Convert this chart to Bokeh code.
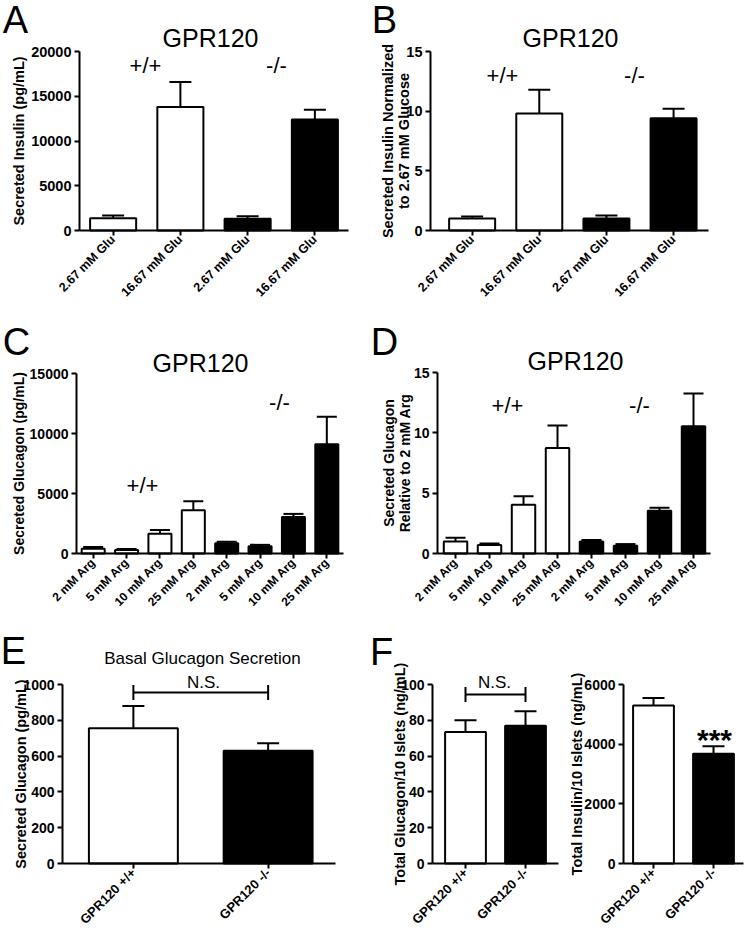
import math
from bokeh.plotting import figure
from bokeh.models import (ColumnDataSource, Whisker, TeeHead, Label, FixedTicker,
                          NumeralTickFormatter, Range1d)
from bokeh.layouts import column, row
from bokeh.embed import file_html
from bokeh.resources import INLINE

FONT = "Liberation Sans"

# ---------------- data ----------------
glu_labels = ["2.67 mM Glu", "16.67 mM Glu", "2.67 mM Glu", "16.67 mM Glu"]
glu_genotype = ["+/+", "+/+", "-/-", "-/-"]
insulin_secreted = [1380, 13800, 1300, 12400]
insulin_secreted_err = [300, 2800, 300, 1100]
insulin_normalized = [1.0, 9.8, 1.0, 9.4]
insulin_normalized_err = [0.17, 2.0, 0.25, 0.8]

arg_labels = ["2 mM Arg", "5 mM Arg", "10 mM Arg", "25 mM Arg",
              "2 mM Arg", "5 mM Arg", "10 mM Arg", "25 mM Arg"]
arg_genotype = ["+/+"] * 4 + ["-/-"] * 4
glucagon_secreted = [400, 300, 1650, 3600, 850, 600, 3050, 9100]
glucagon_secreted_err = [150, 80, 300, 750, 120, 120, 250, 2300]
glucagon_relative = [1.0, 0.7, 4.05, 8.75, 1.0, 0.65, 3.55, 10.55]
glucagon_relative_err = [0.3, 0.12, 0.7, 1.85, 0.12, 0.13, 0.25, 2.7]

geno_labels = ["GPR120 +/+", "GPR120 -/-"]
geno_genotype = ["+/+", "-/-"]
basal_glucagon = [755, 630]
basal_glucagon_err = [125, 42]
total_glucagon = [73.5, 77.0]
total_glucagon_err = [6.5, 8.0]
total_insulin = [5300, 3680]
total_insulin_err = [250, 250]

GENO_COLOR = {"+/+": "#ffffff", "-/-": "#000000"}


def make_panel(box, axis_px, xdata, ydata, yticks, labels, genotypes, values, errs,
               bar_width, xlabel_size, ytick_size="14px", cap=22):
    """box: figure (x0, y0, w, h) in page pixels; axis_px: (left, top, right, bottom)
    pixel positions of the axes; xdata/ydata: data extent of the axes."""
    fx, fy, w, h = box
    al, at, ar, ab = axis_px
    xlo, xhi = xdata
    ylo, yhi = ydata
    kx = (ar - al) / (xhi - xlo)
    ky = (ab - at) / (yhi - ylo)
    xr = (xlo - (al - fx) / kx, xhi + (fx + w - ar) / kx)
    yr = (ylo - (fy + h - ab) / ky, yhi + (at - fy) / ky)
    p = figure(width=w, height=h, x_range=Range1d(*xr), y_range=Range1d(*yr),
               output_backend="svg", toolbar_location=None, min_border=0)
    p.outline_line_color = None
    p.grid.visible = False
    p.background_fill_color = "white"
    p.border_fill_color = "white"
    xs = [i + 0.5 for i in range(len(values))]
    src = ColumnDataSource(dict(x=xs, top=values,
                                upper=[v + e for v, e in zip(values, errs)],
                                color=[GENO_COLOR[g] for g in genotypes]))
    wk = Whisker(source=src, base="x", lower="top", upper="upper", dimension="height",
                 line_width=2, line_color="black",
                 upper_head=TeeHead(size=cap, line_width=2, line_color="black"),
                 lower_head=None)
    p.add_layout(wk)
    p.vbar(x="x", top="top", bottom=0, width=bar_width, source=src,
           fill_color="color", line_color="black", line_width=2)
    for ax in (p.xaxis[0], p.yaxis[0]):
        ax.axis_line_width = 2
        ax.axis_line_color = "black"
        ax.major_tick_line_width = 2
        ax.major_tick_line_color = "black"
        ax.minor_tick_line_color = None
        ax.major_tick_in = 0
        ax.major_tick_out = 5
        ax.major_label_text_font = FONT
        ax.major_label_text_font_style = "bold"
        ax.major_label_text_color = "black"
    yax = p.yaxis[0]
    yax.fixed_location = xlo
    yax.bounds = (ylo, yhi)
    yax.ticker = FixedTicker(ticks=yticks)
    yax.formatter = NumeralTickFormatter(format="0")
    yax.major_label_text_font_size = ytick_size
    yax.major_label_standoff = 3
    xax = p.xaxis[0]
    xax.fixed_location = ylo
    xax.bounds = (xlo, xhi)
    xax.ticker = FixedTicker(ticks=xs)
    xax.major_label_overrides = {x: lab for x, lab in zip(xs, labels)}
    xax.major_label_orientation = math.pi / 4
    xax.major_label_text_font_size = xlabel_size
    xax.major_label_standoff = 2
    return dict(p=p, box=box, xr=xr, yr=yr, xs=xs)


def px2data(panel, X, Y):
    fx, fy, w, h = panel["box"]
    xa, xb = panel["xr"]
    ya, yb = panel["yr"]
    return (xa + (X - fx) / w * (xb - xa), yb - (Y - fy) / h * (yb - ya))


def txt(panel, X, Y, text, size, style="normal", angle=0.0, align="center",
        baseline="middle"):
    x, y = px2data(panel, X, Y)
    panel["p"].add_layout(Label(x=x, y=y, text=text, text_font=FONT,
                                text_font_size=f"{size}px", text_font_style=style,
                                text_color="black", angle=angle,
                                text_align=align, text_baseline=baseline))


def bracket(panel, Y, head=15):
    _, yb = px2data(panel, 0, Y)
    src = ColumnDataSource(dict(base=[yb], lower=[panel["xs"][0]], upper=[panel["xs"][1]]))
    panel["p"].add_layout(Whisker(source=src, base="base", lower="lower", upper="upper",
                                  dimension="width", line_width=2, line_color="black",
                                  lower_head=TeeHead(size=head, line_width=2, line_color="black"),
                                  upper_head=TeeHead(size=head, line_width=2, line_color="black"),
                                  level="overlay"))


V = math.pi / 2

# ---------------- row 1 ----------------
A = make_panel((0, 0, 370, 300), (79, 51, 348, 230), (0, 4), (0, 20000),
               [0, 5000, 10000, 15000, 20000], glu_labels, glu_genotype,
               insulin_secreted, insulin_secreted_err, 0.685, "12.5px", "14.5px")
txt(A, 15, 19, "A", 38)
txt(A, 210, 37, "GPR120", 25)
txt(A, 145, 65, "+/+", 22)
txt(A, 276, 65, "-/-", 22)
txt(A, 18, 140.5, "Secreted Insulin (pg/mL)", 14.5, "bold", V)

B = make_panel((370, 0, 375, 300), (430, 51, 708, 230), (-0.12, 4.02), (0, 15),
               [0, 5, 10, 15], glu_labels, glu_genotype,
               insulin_normalized, insulin_normalized_err, 0.685, "12.5px", "14.5px")
txt(B, 384, 19, "B", 38)
txt(B, 570, 37, "GPR120", 25)
txt(B, 502, 75, "+/+", 22)
txt(B, 634, 75, "-/-", 22)
txt(B, 387, 140.5, "Secreted Insulin Normalized", 14.5, "bold", V)
txt(B, 403, 140.5, "to 2.67 mM Glucose", 14.5, "bold", V)

# ---------------- row 2 ----------------
C = make_panel((0, 300, 370, 310), (76, 373, 343, 553), (0, 8), (0, 15000),
               [0, 5000, 10000, 15000], arg_labels, arg_genotype,
               glucagon_secreted, glucagon_secreted_err, 0.69, "12px", cap=20)
txt(C, 16, 341, "C", 38)
txt(C, 200, 362, "GPR120", 25)
txt(C, 142, 485, "+/+", 22)
txt(C, 279, 402, "-/-", 22)
txt(C, 18, 463, "Secreted Glucagon (pg/mL)", 14, "bold", V)

D = make_panel((370, 300, 375, 310), (437, 372, 710, 553), (-0.03, 8.0), (0, 15),
               [0, 5, 10, 15], arg_labels, arg_genotype,
               glucagon_relative, glucagon_relative_err, 0.69, "12px", cap=20)
txt(D, 384, 341, "D", 38)
txt(D, 575, 360, "GPR120", 25)
txt(D, 507, 405, "+/+", 22)
txt(D, 639, 405, "-/-", 22)
txt(D, 388, 462.5, "Secreted Glucagon", 14, "bold", V)
txt(D, 404, 462.5, "Relative to 2 mM Arg", 14, "bold", V)

# ---------------- row 3 ----------------
E = make_panel((0, 610, 365, 320), (62, 684, 335, 863), (-0.026, 2.0), (0, 1000),
               [0, 200, 400, 600, 800, 1000], geno_labels, geno_genotype,
               basal_glucagon, basal_glucagon_err, 0.66, "13px")
txt(E, 13, 650, "E", 38)
txt(E, 202, 658, "Basal Glucagon Secretion", 17)
txt(E, 20, 773.5, "Secreted Glucagon (pg/mL)", 14.5, "bold", V)
bracket(E, 692)
txt(E, 203, 682, "N.S.", 17)

FL = make_panel((365, 610, 200, 320), (432, 684, 558, 863), (-0.05, 2.05), (0, 100),
                [0, 20, 40, 60, 80, 100], geno_labels, geno_genotype,
                total_glucagon, total_glucagon_err, 0.68, "13px")
txt(FL, 381, 651, "F", 38)
txt(FL, 399, 773.5, "Total Glucagon/10 Islets (ng/mL)", 14.5, "bold", V)
bracket(FL, 694)
txt(FL, 494, 681.5, "N.S.", 17)

FR = make_panel((565, 610, 180, 320), (623, 684, 743, 863), (0, 2), (0, 6000),
                [0, 2000, 4000, 6000], geno_labels, geno_genotype,
                total_insulin, total_insulin_err, 0.68, "13px")
txt(FR, 576, 773.5, "Total Insulin/10 Islets (ng/mL)", 14.5, "bold", V)
txt(FR, 714, 739, "***", 30, "bold")

layout = column(row(A["p"], B["p"]), row(C["p"], D["p"]), row(E["p"], FL["p"], FR["p"]))

open("out.html", "w").write(file_html(layout, INLINE))
